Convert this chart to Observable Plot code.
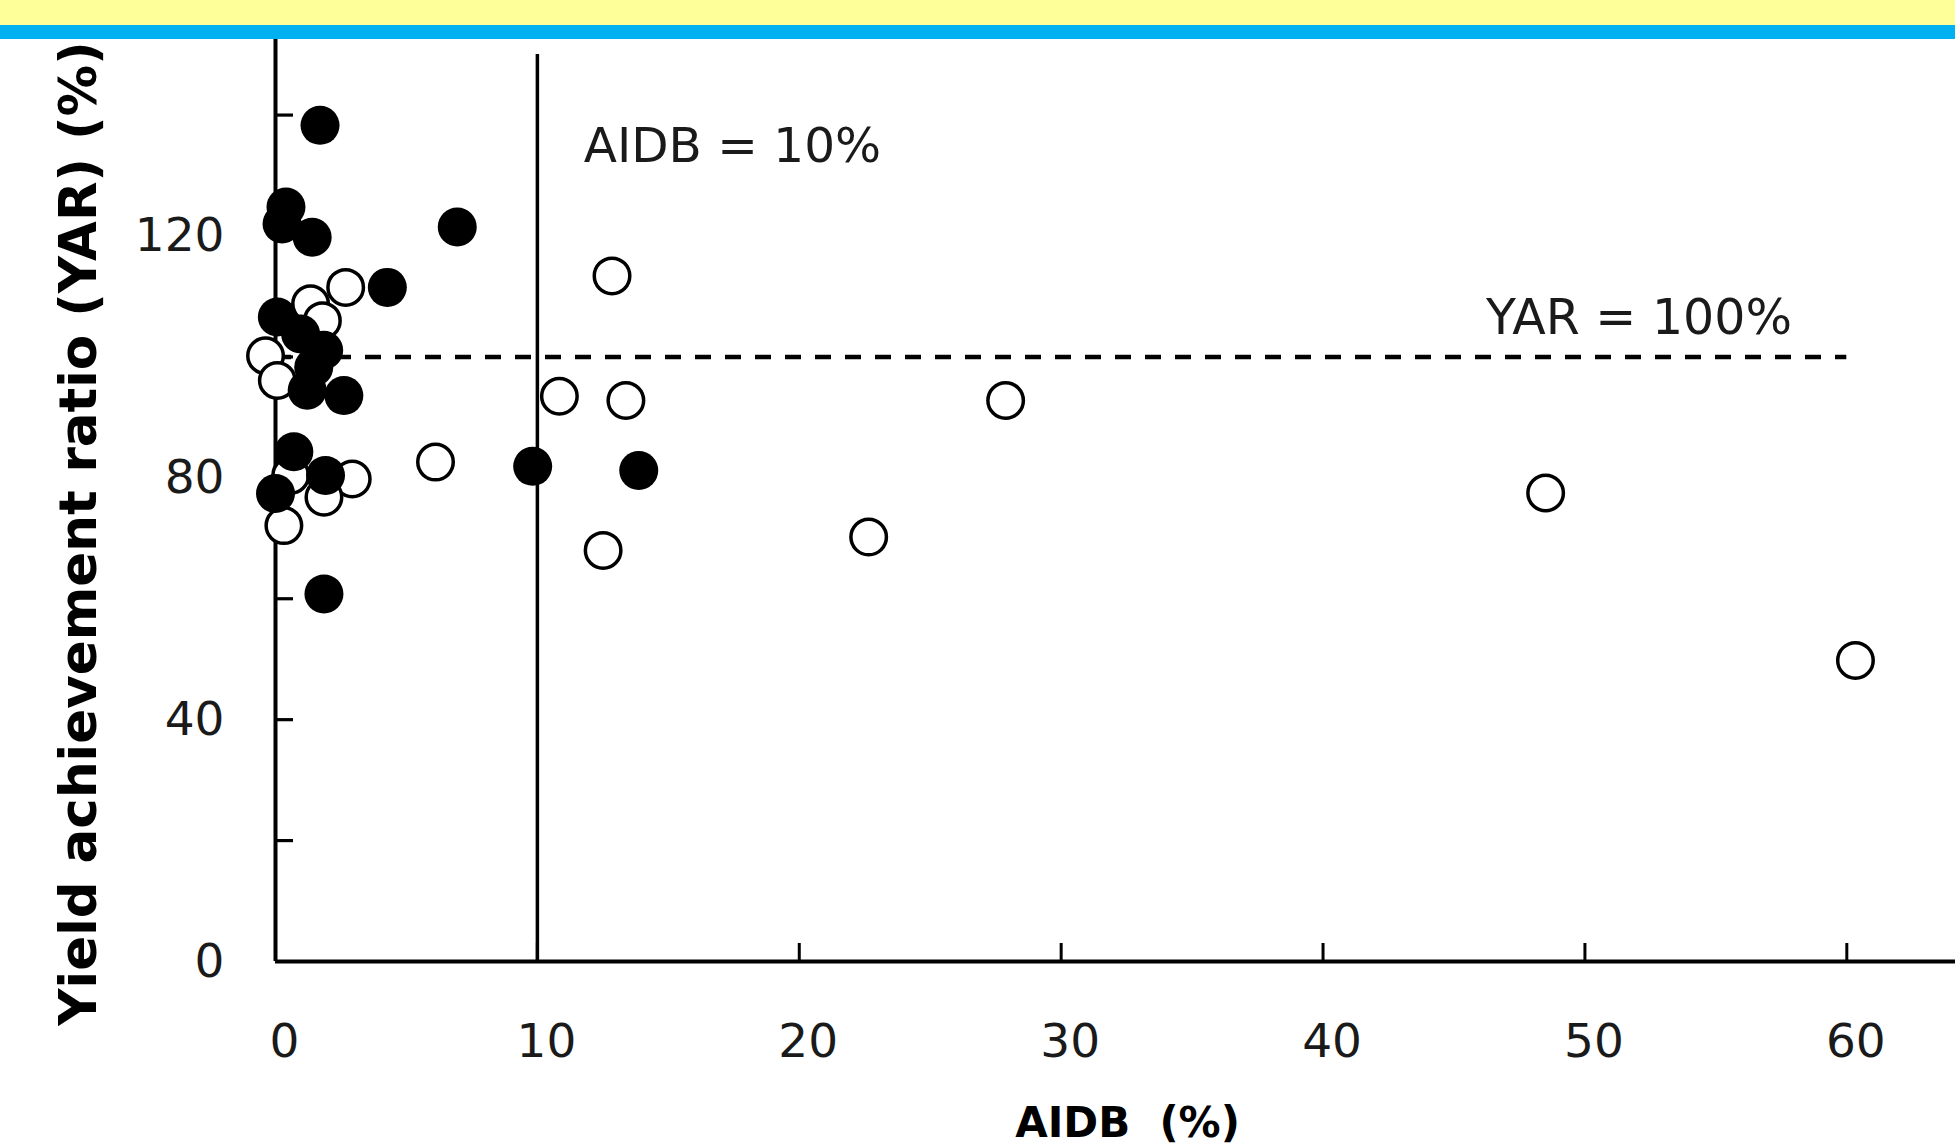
<!DOCTYPE html>
<html>
<head>
<meta charset="utf-8">
<script src="https://cdn.jsdelivr.net/npm/d3@7"></script>
<script src="https://cdn.jsdelivr.net/npm/@observablehq/plot@0.6"></script>
<style>
  html, body { margin: 0; padding: 0; background: #fff; overflow: hidden; }
  #band1 { height: 25px; background: #FFFF99; }
  #band2 { height: 14px; background: #00B0F0; }
  #chart svg { display: block; overflow: visible; }
</style>
</head>
<body>
<div id="band1"></div>
<div id="band2"></div>
<div id="chart"></div>
<script>
// Filled circles: AIDB (%) and YAR (%)
const filledAIDB = [1.7, 0.4, 0.25, 1.4, 6.94, 4.27, 0.07, 0.96, 1.84, 1.46, 1.21, 2.61, 0.70, 1.91, 0.0, 1.85, 9.82, 13.87];
const filledYAR  = [138.3, 124.8, 122.0, 119.8, 121.5, 111.5, 106.6, 103.8, 101.1, 98.3, 94.5, 93.6, 84.3, 80.4, 77.4, 60.8, 81.9, 81.2];
// Open circles: AIDB (%) and YAR (%)
const openAIDB = [2.68, 1.34, 1.79, -0.38, 0.07, 2.93, 1.85, 0.32, 0.58, 6.11, 12.85, 10.84, 13.38, 27.88, 12.51, 22.65, 48.5, 60.33];
const openYAR  = [111.5, 108.8, 106.0, 100.2, 96.1, 79.8, 76.8, 72.1, 80.4, 82.6, 113.4, 93.5, 92.8, 92.8, 68.0, 70.2, 77.5, 49.8];

// Axis ticks
const xTickLabels = [0, 10, 20, 30, 40, 50, 60];
const xTickMarks = [10, 20, 30, 40, 50, 60];
const yTickLabels = [0, 40, 80, 120];
const yTickMarks = [20, 40, 60, 80, 100, 120, 140];

// Reference lines
const refAIDB = [10];      // vertical line AIDB = 10%
const refAIDBTop = 150;    // vertical line extends up to YAR 150
const refYAR = [100];      // dashed line YAR = 100%
const refYARRight = 60;    // dashed line extends to AIDB 60
const labelAIDB = "AIDB = 10%";
const labelYAR = "YAR = 100%";
const xLabel = "AIDB  (%)";
const yLabel = "Yield achievement ratio (YAR) (%)";

const filled = filledAIDB.map((x, i) => ({x, y: filledYAR[i]}));
const open = openAIDB.map((x, i) => ({x, y: openYAR[i]}));

const FONT = "'DejaVu Sans', Verdana, sans-serif";

const chart = Plot.plot({
  width: 1955,
  height: 1140,
  marginLeft: 275,
  marginRight: 0,
  marginTop: 0,
  marginBottom: 218,
  style: {fontFamily: FONT, fontSize: "47px", color: "#111", background: "white", overflow: "visible"},
  x: {domain: [0, 64.15]},
  y: {domain: [0, 152.5]},
  marks: [
    // reference lines
    Plot.ruleX(refAIDB, {x: d => d, y1: 0, y2: refAIDBTop, stroke: "#000", strokeWidth: 3.5}),
    Plot.ruleY(refYAR, {y: d => d, x1: 0, x2: refYARRight, stroke: "#000", strokeWidth: 4.5, strokeDasharray: "16,14"}),
    // axis lines
    Plot.ruleX([0], {stroke: "#000", strokeWidth: 4}),
    Plot.ruleY([0], {stroke: "#000", strokeWidth: 4}),
    // ticks (inward)
    Plot.axisY(yTickMarks, {tickSize: -18, fill: "none", label: null, stroke: "#000", strokeWidth: 3.2}),
    Plot.axisX(xTickMarks, {tickSize: -18, fill: "none", label: null, stroke: "#000", strokeWidth: 3}),
    // tick labels
    Plot.axisY(yTickLabels, {tickSize: 0, tickPadding: 51, label: null, fontSize: 47, fill: "#1a1a1a"}),
    Plot.axisX(xTickLabels, {tickSize: 0, tickPadding: 62, dx: 9, label: null, fontSize: 47, fill: "#1a1a1a"}),
    // points
    Plot.dot(open, {x: "x", y: "y", r: 17.75, stroke: "#000", strokeWidth: 3.5, fill: "white"}),
    Plot.dot(filled, {x: "x", y: "y", r: 19.5, fill: "#000"}),
    // annotations
    Plot.text(refAIDB, {x: d => d, frameAnchor: "top", text: () => labelAIDB, dx: 195, dy: 122, lineAnchor: "bottom", textAnchor: "middle", fontSize: 48.5, fill: "#1a1a1a"}),
    Plot.text(refYAR, {y: d => d, frameAnchor: "right", text: () => labelYAR, dx: -316.5, dy: -22.5, lineAnchor: "bottom", textAnchor: "middle", fontSize: 49, fill: "#1a1a1a"}),
    // axis titles
    Plot.text([xLabel], {frameAnchor: "bottom", text: d => d, dx: 12, dy: 175, lineAnchor: "bottom", textAnchor: "middle", fontSize: 42, fontWeight: "bold", fill: "#000"}),
    Plot.text([yLabel], {frameAnchor: "left", text: d => d, rotate: -90, dx: -180, dy: 33, lineAnchor: "bottom", textAnchor: "middle", fontSize: 51.5, fontWeight: "bold", fill: "#000"})
  ]
});
document.getElementById("chart").appendChild(chart);
</script>
</body>
</html>
